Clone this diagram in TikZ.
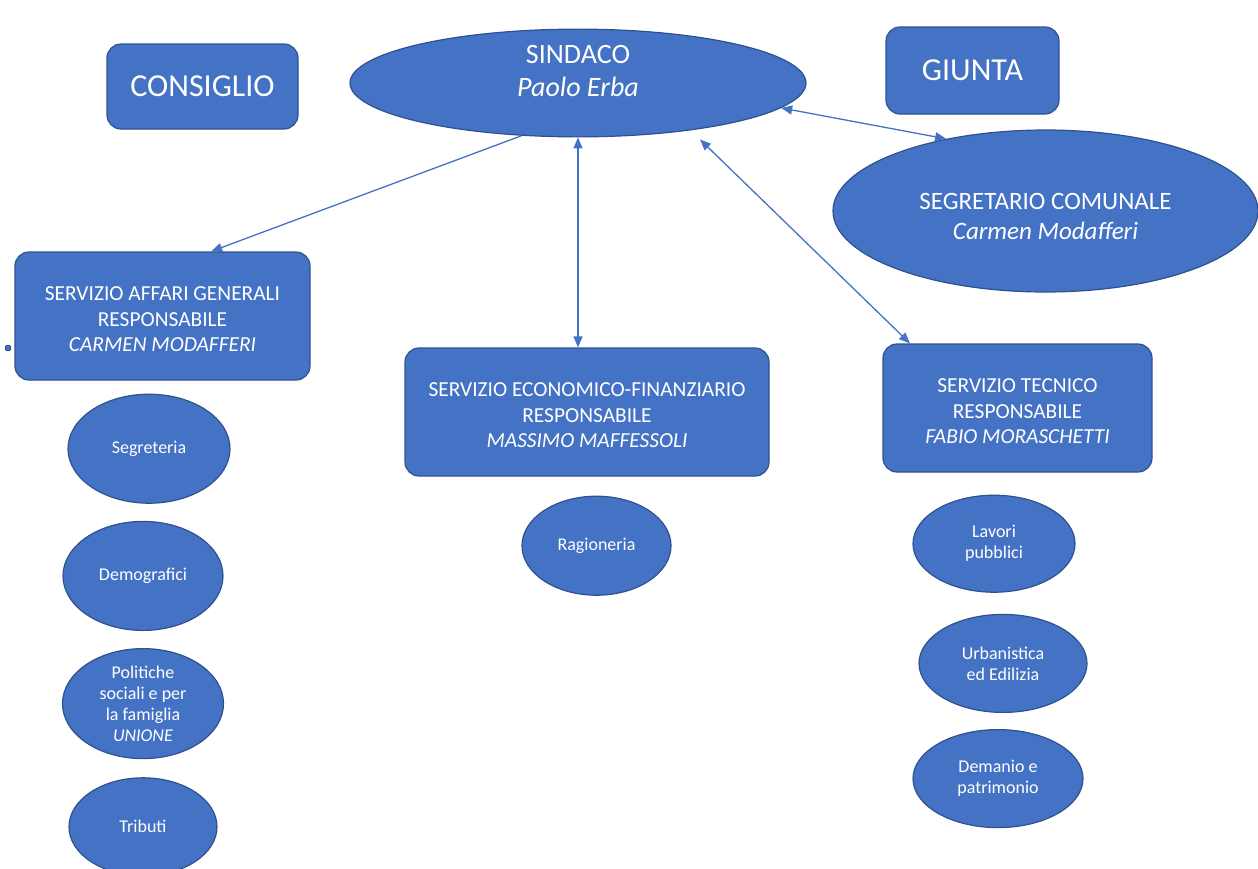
\documentclass[tikz,border=0pt]{standalone}
\usepackage{fontspec}
\setmainfont{Carlito}
\usetikzlibrary{shapes,arrows.meta,positioning,calc}
\definecolor{unitblue}{HTML}{4472C4}
\definecolor{unitedge}{HTML}{2F528F}
\definecolor{linkblue}{HTML}{4472C4}

\begin{document}
\begin{tikzpicture}[x=1pt, y=-1pt, node distance=17pt,
        box/.style={draw=unitedge, fill=unitblue, line width=1.2pt, rounded corners=14pt, align=center, text=white, inner sep=0pt},
        bigbox/.style={box, font=\fontsize{32}{36}\selectfont},
        unit/.style={box, minimum height=128pt, text height=72pt, font=\fontsize{21.4}{25.5}\selectfont},
        head/.style={draw=unitedge, fill=unitblue, line width=1.2pt, ellipse, align=center, text=white, inner sep=0pt},
        office/.style={head, minimum width=162pt, minimum height=98pt, font=\fontsize{18}{21}\selectfont},
        link/.style={draw=linkblue, line width=1.3pt},
        >={Triangle[length=11pt,width=9pt]}
    ]
        \useasboundingbox (0,0) rectangle (1258,868);

        % vertice
        \node [bigbox, minimum width=191pt, minimum height=85pt] (consiglio) at (202.5,86.5) {CONSIGLIO};
        \node [head, minimum width=456pt, minimum height=106pt, text depth=25pt, font=\fontsize{28}{33}\selectfont] (sindaco) at (578,83) {SINDACO\\\textit{Paolo Erba}};
        \node [bigbox, minimum width=173pt, minimum height=87pt] (giunta) at (972.5,70.5) {GIUNTA};
        \node [head, minimum width=425pt, minimum height=162pt, text height=58pt, font=\fontsize{25}{30}\selectfont] (segretario) at (1045.5,211) {SEGRETARIO COMUNALE\\\textit{Carmen Modafferi}};

        % servizi
        \node [unit, minimum width=295pt] (affari) at (162.5,316) {SERVIZIO AFFARI GENERALI\\RESPONSABILE\\\textit{CARMEN MODAFFERI}};
        \node [unit, minimum width=364pt] (economico) at (587,412) {SERVIZIO ECONOMICO-FINANZIARIO\\RESPONSABILE\\\textit{MASSIMO MAFFESSOLI}};
        \node [unit, minimum width=269pt] (tecnico) at (1017.5,408) {SERVIZIO TECNICO\\RESPONSABILE\\\textit{FABIO MORASCHETTI}};
        \node [draw=unitedge, fill=unitblue, line width=1pt, minimum size=5pt, inner sep=0pt, rounded corners=1pt] (handle) at (8,348) {};

        % uffici
        \node [office, minimum height=109pt, below=13pt of affari, xshift=-13.5pt] (segreteria) {Segreteria};
        \node [office, minimum width=160pt, minimum height=109pt, below=17pt of segreteria, xshift=-6pt] (demografici) {Demografici};
        \node [office, minimum width=161pt, minimum height=110pt, below=17pt of demografici] (politiche) {Politiche\\sociali e per\\la famiglia\\\textit{UNIONE}};
        \node [office, minimum width=148pt, below=18pt of politiche] (tributi) {Tributi};
        \node [office, minimum width=149pt, minimum height=99pt, below=19pt of economico, xshift=9.5pt] (ragioneria) {Ragioneria};
        \node [office, minimum height=97pt, below=22pt of tecnico, xshift=-23.5pt] (lavori) {Lavori\\pubblici};
        \node [office, minimum width=168pt, below=21pt of lavori, xshift=9pt] (urbanistica) {Urbanistica\\ed Edilizia};
        \node [office, minimum width=170pt, below=16pt of urbanistica, xshift=-5pt] (demanio) {Demanio e\\patrimonio};

        \draw [link, ->] (sindaco.223) -- (affari.53);
        \draw [link, <->] (sindaco.south) -- (sindaco.south |- economico.north);
        \draw [link, <->] ($(sindaco.south)+(122,2)$) -- (tecnico.149);
        \draw [link, <->] (sindaco.353) -- (segretario.144);

    \end{tikzpicture}
\end{document}
